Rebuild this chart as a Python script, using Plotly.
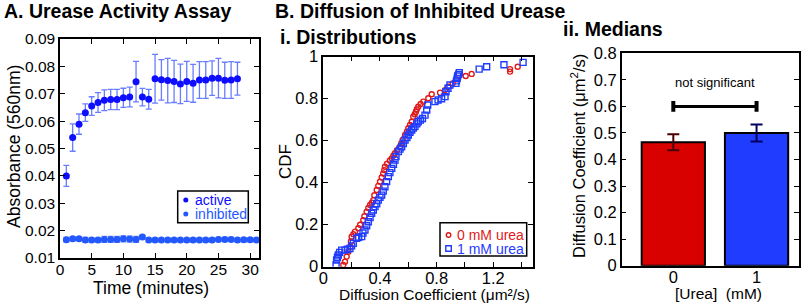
import plotly.graph_objects as go

W, H = 807, 303
FONT = "Liberation Sans, Arial, Helvetica, sans-serif"

# ---------------- Panel A: urease activity assay ----------------
active_time = list(range(1, 29))
active_abs = [0.0400, 0.0540, 0.0589, 0.0631, 0.0655, 0.0668, 0.0676, 0.0679, 0.0679, 0.0685,
              0.0688, 0.0744, 0.0688, 0.0680, 0.0755, 0.0751, 0.0748, 0.0745, 0.0736, 0.0745,
              0.0738, 0.0750, 0.0750, 0.0757, 0.0757, 0.0749, 0.0750, 0.0755]
active_err = [0.0038, 0.0050, 0.0037, 0.0032, 0.0034, 0.0036, 0.0038, 0.0037, 0.0037, 0.0035,
              0.0036, 0.0074, 0.0032, 0.0036, 0.0089, 0.0074, 0.0081, 0.0077, 0.0072, 0.0073,
              0.0069, 0.0067, 0.0067, 0.0063, 0.0072, 0.0066, 0.0067, 0.0060]

inhib_time = list(range(1, 32))
inhib_abs = [0.0167, 0.0170, 0.0170, 0.0166, 0.0166, 0.0166, 0.0168, 0.0168, 0.0168, 0.0170,
             0.0169, 0.0168, 0.0177, 0.0166, 0.0166, 0.0166, 0.0166, 0.0166, 0.0166, 0.0166,
             0.0166, 0.0166, 0.0166, 0.0166, 0.0168, 0.0168, 0.0168, 0.0166, 0.0167, 0.0167,
             0.0166]
inhib_err = [0.0008, 0.0007, 0.0007, 0.0009, 0.0008, 0.0008, 0.0011, 0.0011, 0.0011, 0.0011,
             0.0011, 0.0011, 0.0008, 0.0007, 0.0007, 0.0007, 0.0007, 0.0007, 0.0007, 0.0007,
             0.0007, 0.0007, 0.0007, 0.0007, 0.0007, 0.0007, 0.0007, 0.0007, 0.0007, 0.0007,
             0.0007]

A_xticks = [0, 5, 10, 15, 20, 25, 30]
A_yticks = [0.01, 0.02, 0.03, 0.04, 0.05, 0.06, 0.07, 0.08, 0.09]

# ---------------- Panel B: CDFs ----------------
urea0_D = [0.141, 0.153, 0.165, 0.177, 0.190, 0.195, 0.200, 0.212, 0.224, 0.247,
           0.260, 0.282, 0.290, 0.306, 0.318, 0.330, 0.343, 0.353, 0.360, 0.377,
           0.388, 0.400, 0.412, 0.423, 0.430, 0.435, 0.450, 0.470, 0.483, 0.495,
           0.506, 0.520, 0.541, 0.550, 0.560, 0.577, 0.590, 0.600, 0.612, 0.624,
           0.635, 0.645, 0.654, 0.660, 0.670, 0.687, 0.706, 0.741, 0.765, 0.824,
           0.859, 0.882, 0.913, 0.941, 1.005, 1.047, 1.318, 1.318, 1.372]
urea0_P = [0.008, 0.024, 0.048, 0.071, 0.095, 0.120, 0.143, 0.155, 0.167, 0.183,
           0.200, 0.222, 0.240, 0.262, 0.280, 0.294, 0.305, 0.317, 0.340, 0.365,
           0.385, 0.405, 0.425, 0.444, 0.460, 0.476, 0.490, 0.506, 0.516, 0.530,
           0.540, 0.555, 0.571, 0.587, 0.603, 0.627, 0.643, 0.659, 0.675, 0.690,
           0.714, 0.726, 0.738, 0.750, 0.762, 0.775, 0.786, 0.802, 0.821, 0.829,
           0.841, 0.857, 0.873, 0.892, 0.908, 0.918, 0.929, 0.941, 0.952]

urea1_D = [0.090, 0.094, 0.100, 0.106, 0.115, 0.130, 0.153, 0.170, 0.188, 0.200,
           0.212, 0.236, 0.250, 0.271, 0.280, 0.294, 0.306, 0.318, 0.330, 0.341,
           0.353, 0.365, 0.377, 0.388, 0.400, 0.412, 0.423, 0.435, 0.447, 0.459,
           0.470, 0.483, 0.495, 0.506, 0.513, 0.530, 0.541, 0.553, 0.565, 0.577,
           0.590, 0.600, 0.612, 0.624, 0.635, 0.647, 0.660, 0.670, 0.685, 0.700,
           0.718, 0.730, 0.737, 0.788, 0.810, 0.835, 0.859, 0.866, 0.880, 0.894,
           0.936, 0.940, 0.945, 0.948, 0.955, 0.960, 1.100, 1.153, 1.275, 1.410]
urea1_P = [0.008, 0.032, 0.045, 0.056, 0.068, 0.079, 0.079, 0.083, 0.087, 0.099,
           0.111, 0.135, 0.140, 0.143, 0.160, 0.175, 0.195, 0.214, 0.234, 0.254,
           0.270, 0.286, 0.300, 0.317, 0.330, 0.341, 0.360, 0.381, 0.405, 0.429,
           0.448, 0.468, 0.488, 0.508, 0.524, 0.548, 0.560, 0.571, 0.587, 0.603,
           0.615, 0.627, 0.640, 0.651, 0.660, 0.667, 0.680, 0.690, 0.698, 0.706,
           0.722, 0.746, 0.770, 0.786, 0.794, 0.800, 0.810, 0.833, 0.850, 0.865,
           0.873, 0.885, 0.897, 0.908, 0.916, 0.924, 0.941, 0.952, 0.962, 0.973]

B_xticks = [0, 0.4, 0.8, 1.2]
B_xminor = [0.2, 0.6, 1.0, 1.4]
B_yticks = [0, 0.2, 0.4, 0.6, 0.8, 1]

# ---------------- Panel C: medians ----------------
urea_mM = [0, 1]
urea_labels = ["0", "1"]
median_D = [0.465, 0.500]
median_err = [0.030, 0.032]
sig_level = 0.60
C_yticks = [0, 0.1, 0.2, 0.3, 0.4, 0.5, 0.6, 0.7, 0.8]

# ---------------- styling ----------------
ACTIVE = "#0d0dff"
INHIB = "#2458ff"
RED = "#e01a1a"
BLUE = "#1f3cff"
BAR_RED = "#d90000"
BAR_BLUE = "#1f3cff"


def px(x):
    return x / W


def py(y):
    return 1 - y / H


fig = go.Figure()

# Panel A traces
fig.add_trace(go.Scatter(
    x=active_time, y=active_abs, mode="markers", name="active",
    marker=dict(color=ACTIVE, size=7),
    error_y=dict(type="data", array=active_err, color="rgba(40,70,255,0.7)", thickness=1.3, width=3),
    xaxis="x", yaxis="y", showlegend=False))
fig.add_trace(go.Scatter(
    x=inhib_time, y=inhib_abs, mode="markers", name="inhibited",
    marker=dict(color=INHIB, size=7),
    error_y=dict(type="data", array=inhib_err, color="rgba(60,100,255,0.7)", thickness=1.2, width=3),
    xaxis="x", yaxis="y", showlegend=False))

# Panel B traces
fig.add_trace(go.Scatter(
    x=urea0_D, y=urea0_P, mode="markers", name="0 mM urea",
    marker=dict(symbol="circle-open", color=RED, size=5, line=dict(width=1.4, color=RED)),
    xaxis="x2", yaxis="y2", showlegend=False))
fig.add_trace(go.Scatter(
    x=urea1_D, y=urea1_P, mode="markers", name="1 mM urea",
    marker=dict(symbol="square-open", color=BLUE, size=6, line=dict(width=1.4, color=BLUE)),
    xaxis="x2", yaxis="y2", showlegend=False))

# Panel C traces
bar_colors = [BAR_RED, BAR_BLUE]
err_colors = ["#4a0000", "#00005e"]
for i in range(len(urea_mM)):
    fig.add_trace(go.Bar(
        x=[urea_mM[i]], y=[median_D[i]], width=0.76,
        marker=dict(color=bar_colors[i], line=dict(color="black", width=2)),
        error_y=dict(type="data", array=[median_err[i]], color=err_colors[i], thickness=2, width=6),
        xaxis="x3", yaxis="y3", showlegend=False))

axis_common = dict(showline=True, linecolor="black", linewidth=1.5, mirror="ticks",
                   ticks="inside", ticklen=5, tickwidth=1.2, tickcolor="black",
                   showgrid=False, zeroline=False, automargin=False)

fig.update_layout(
    template="none",
    width=W, height=H, margin=dict(l=0, r=0, t=0, b=0, pad=0, autoexpand=False),
    paper_bgcolor="white", plot_bgcolor="white",
    font=dict(family=FONT, color="black"),
    barmode="overlay",
    xaxis=dict(domain=[px(60), px(259)], anchor="y", range=[0, 31.4],
               tickvals=A_xticks, tickfont=dict(size=15.5), ticklabelstandoff=-3, **axis_common),
    yaxis=dict(domain=[py(258), py(39)], anchor="x", range=[0.01, 0.09],
               tickvals=A_yticks, tickformat=".2f", tickfont=dict(size=15.5), **axis_common),
    xaxis2=dict(domain=[px(323.3), px(533)], anchor="y2", range=[0, 1.48],
                tickvals=B_xticks, ticktext=["0", "0.4", "0.8", "1.2"], tickfont=dict(size=16.5),
                ticklabelstandoff=-4,
                minor=dict(tickvals=B_xminor, ticks="inside", ticklen=5, tickwidth=1.2, tickcolor="black"),
                **axis_common),
    yaxis2=dict(domain=[py(266.7), py(56.7)], anchor="x2", range=[0, 1],
                tickvals=B_yticks, tickfont=dict(size=16.5), **axis_common),
    xaxis3=dict(domain=[px(621.7), px(799)], anchor="y3", range=[-0.62, 1.51],
                tickvals=urea_mM, ticktext=urea_labels, showline=True, linecolor="black",
                linewidth=1.5, mirror=True, ticks="", showgrid=False, zeroline=False,
                automargin=False, tickfont=dict(size=16.5), ticklabelstandoff=-4),
    yaxis3=dict(domain=[py(265.7), py(53.3)], anchor="x3", range=[0, 0.8],
                tickvals=C_yticks, tickfont=dict(size=16.5), **axis_common),
)

ann = []
# panel titles
ann.append(dict(text="<b>A. Urease Activity Assay</b>", x=px(2), y=py(11), xanchor="left", yanchor="middle",
                font=dict(size=19.5)))
ann.append(dict(text="<b>B. Diffusion of Inhibited Urease</b>", x=px(272.5), y=py(11), xanchor="left",
                yanchor="middle", font=dict(size=19.5)))
ann.append(dict(text="<b>i. Distributions</b>", x=px(277.5), y=py(37), xanchor="left", yanchor="middle",
                font=dict(size=19.5)))
ann.append(dict(text="<b>ii. Medians</b>", x=px(561), y=py(29), xanchor="left", yanchor="middle",
                font=dict(size=19.5)))
# axis titles
ann.append(dict(text="Time (minutes)", x=px(151), y=py(288), xanchor="center", yanchor="middle",
                font=dict(size=17.5)))
ann.append(dict(text="Absorbance (560nm)", x=px(14), y=py(147), xanchor="center", yanchor="middle",
                textangle=-90, font=dict(size=17.5)))
ann.append(dict(text="CDF", x=px(285), y=py(162), xanchor="center", yanchor="middle",
                textangle=-90, font=dict(size=17)))
ann.append(dict(text="Diffusion Coefficient (μm²/s)", x=px(434), y=py(294), xanchor="center",
                yanchor="middle", font=dict(size=15.5)))
ann.append(dict(text="Diffusion Coefficient (μm<sup>2</sup>/s)", x=px(578), y=py(156), xanchor="center",
                yanchor="middle", textangle=-90, font=dict(size=16.5)))
ann.append(dict(text="[Urea]\u00a0\u00a0(mM)", x=px(718), y=py(293), xanchor="center", yanchor="middle",
                font=dict(size=15.5)))
# legend texts
ann.append(dict(text="active", x=px(192.5), y=py(200), xanchor="left", yanchor="middle",
                font=dict(size=14, color=ACTIVE)))
ann.append(dict(text="inhibited", x=px(192.5), y=py(214), xanchor="left", yanchor="middle",
                font=dict(size=14, color=INHIB)))
ann.append(dict(text="0 mM urea", x=px(455), y=py(235), xanchor="left", yanchor="middle",
                font=dict(size=14, color=RED)))
ann.append(dict(text="1 mM urea", x=px(455), y=py(248.5), xanchor="left", yanchor="middle",
                font=dict(size=14, color=BLUE)))
for a in ann:
    a.update(xref="paper", yref="paper", showarrow=False)
# significance label
ann.append(dict(text="not significant", x=sum(urea_mM) / len(urea_mM), y=0.69, xref="x3", yref="y3",
                showarrow=False, xanchor="center", yanchor="middle", font=dict(size=13)))
fig.update_layout(annotations=ann)

shapes = []
# legend A
shapes.append(dict(type="rect", xref="paper", yref="paper", x0=px(177.7), x1=px(248.3), y0=py(222.7),
                   y1=py(191), line=dict(color="black", width=1.5), fillcolor="white"))
for cy, col in [(200, ACTIVE), (214, INHIB)]:
    shapes.append(dict(type="circle", xref="paper", yref="paper", x0=px(183.3), x1=px(188.3),
                       y0=py(cy + 2.5), y1=py(cy - 2.5), line=dict(color=col, width=0), fillcolor=col))
# legend B
shapes.append(dict(type="rect", xref="paper", yref="paper", x0=px(440), x1=px(526.7), y0=py(256),
                   y1=py(222.7), line=dict(color="black", width=1.5), fillcolor="white"))
shapes.append(dict(type="circle", xref="paper", yref="paper", x0=px(446.3), x1=px(450.8),
                   y0=py(237.3), y1=py(232.8), line=dict(color=RED, width=1.4)))
shapes.append(dict(type="rect", xref="paper", yref="paper", x0=px(445.8), x1=px(451.3),
                   y0=py(251.3), y1=py(245.8), line=dict(color=BLUE, width=1.4)))
# significance bracket
cap = 0.02
shapes.append(dict(type="line", xref="x3", yref="y3", x0=urea_mM[0], x1=urea_mM[1], y0=sig_level,
                   y1=sig_level, line=dict(color="black", width=3)))
for xv in urea_mM:
    shapes.append(dict(type="line", xref="x3", yref="y3", x0=xv, x1=xv, y0=sig_level - cap,
                       y1=sig_level + cap, line=dict(color="black", width=4)))
fig.update_layout(shapes=shapes)

fig.write_html("out.html")
